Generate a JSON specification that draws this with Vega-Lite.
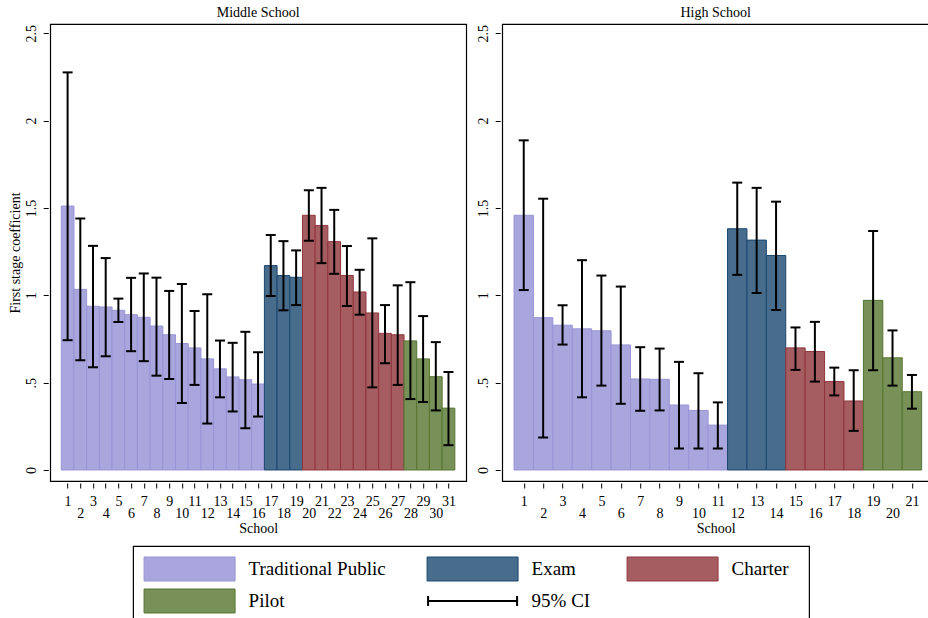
{
  "$schema": "https://vega.github.io/schema/vega-lite/v6.json",
  "padding": {"left": 7, "top": 5, "right": 0, "bottom": 0},
  "background": "white",
  "datasets": {
    "ms": [
      {"school": 1, "type": "Traditional Public", "coef": 1.511, "lo": 0.743, "hi": 2.276},
      {"school": 2, "type": "Traditional Public", "coef": 1.034, "lo": 0.628, "hi": 1.439},
      {"school": 3, "type": "Traditional Public", "coef": 0.937, "lo": 0.588, "hi": 1.283},
      {"school": 4, "type": "Traditional Public", "coef": 0.933, "lo": 0.651, "hi": 1.213},
      {"school": 5, "type": "Traditional Public", "coef": 0.914, "lo": 0.847, "hi": 0.981},
      {"school": 6, "type": "Traditional Public", "coef": 0.889, "lo": 0.680, "hi": 1.100},
      {"school": 7, "type": "Traditional Public", "coef": 0.874, "lo": 0.623, "hi": 1.125},
      {"school": 8, "type": "Traditional Public", "coef": 0.824, "lo": 0.540, "hi": 1.101},
      {"school": 9, "type": "Traditional Public", "coef": 0.774, "lo": 0.521, "hi": 1.025},
      {"school": 10, "type": "Traditional Public", "coef": 0.724, "lo": 0.383, "hi": 1.065},
      {"school": 11, "type": "Traditional Public", "coef": 0.699, "lo": 0.487, "hi": 0.910},
      {"school": 12, "type": "Traditional Public", "coef": 0.636, "lo": 0.266, "hi": 1.006},
      {"school": 13, "type": "Traditional Public", "coef": 0.579, "lo": 0.416, "hi": 0.741},
      {"school": 14, "type": "Traditional Public", "coef": 0.533, "lo": 0.335, "hi": 0.728},
      {"school": 15, "type": "Traditional Public", "coef": 0.517, "lo": 0.239, "hi": 0.791},
      {"school": 16, "type": "Traditional Public", "coef": 0.492, "lo": 0.306, "hi": 0.674},
      {"school": 17, "type": "Exam", "coef": 1.170, "lo": 0.996, "hi": 1.345},
      {"school": 18, "type": "Exam", "coef": 1.113, "lo": 0.914, "hi": 1.310},
      {"school": 19, "type": "Exam", "coef": 1.103, "lo": 0.944, "hi": 1.257},
      {"school": 20, "type": "Charter", "coef": 1.458, "lo": 1.312, "hi": 1.601},
      {"school": 21, "type": "Charter", "coef": 1.400, "lo": 1.184, "hi": 1.615},
      {"school": 22, "type": "Charter", "coef": 1.307, "lo": 1.123, "hi": 1.489},
      {"school": 23, "type": "Charter", "coef": 1.113, "lo": 0.939, "hi": 1.282},
      {"school": 24, "type": "Charter", "coef": 1.019, "lo": 0.889, "hi": 1.146},
      {"school": 25, "type": "Charter", "coef": 0.899, "lo": 0.473, "hi": 1.326},
      {"school": 26, "type": "Charter", "coef": 0.782, "lo": 0.611, "hi": 0.944},
      {"school": 27, "type": "Charter", "coef": 0.774, "lo": 0.487, "hi": 1.057},
      {"school": 28, "type": "Pilot", "coef": 0.739, "lo": 0.406, "hi": 1.075},
      {"school": 29, "type": "Pilot", "coef": 0.636, "lo": 0.389, "hi": 0.881},
      {"school": 30, "type": "Pilot", "coef": 0.534, "lo": 0.341, "hi": 0.732},
      {"school": 31, "type": "Pilot", "coef": 0.354, "lo": 0.142, "hi": 0.561}
    ],
    "hs": [
      {"school": 1, "type": "Traditional Public", "coef": 1.458, "lo": 1.030, "hi": 1.887},
      {"school": 2, "type": "Traditional Public", "coef": 0.872, "lo": 0.186, "hi": 1.553},
      {"school": 3, "type": "Traditional Public", "coef": 0.829, "lo": 0.718, "hi": 0.943},
      {"school": 4, "type": "Traditional Public", "coef": 0.808, "lo": 0.416, "hi": 1.201},
      {"school": 5, "type": "Traditional Public", "coef": 0.797, "lo": 0.483, "hi": 1.113},
      {"school": 6, "type": "Traditional Public", "coef": 0.716, "lo": 0.379, "hi": 1.050},
      {"school": 7, "type": "Traditional Public", "coef": 0.521, "lo": 0.339, "hi": 0.703},
      {"school": 8, "type": "Traditional Public", "coef": 0.519, "lo": 0.341, "hi": 0.695},
      {"school": 9, "type": "Traditional Public", "coef": 0.372, "lo": 0.123, "hi": 0.619},
      {"school": 10, "type": "Traditional Public", "coef": 0.341, "lo": 0.123, "hi": 0.554},
      {"school": 11, "type": "Traditional Public", "coef": 0.257, "lo": 0.123, "hi": 0.387},
      {"school": 12, "type": "Exam", "coef": 1.381, "lo": 1.117, "hi": 1.645},
      {"school": 13, "type": "Exam", "coef": 1.316, "lo": 1.013, "hi": 1.615},
      {"school": 14, "type": "Exam", "coef": 1.228, "lo": 0.916, "hi": 1.536},
      {"school": 15, "type": "Charter", "coef": 0.699, "lo": 0.573, "hi": 0.816},
      {"school": 16, "type": "Charter", "coef": 0.678, "lo": 0.506, "hi": 0.848},
      {"school": 17, "type": "Charter", "coef": 0.506, "lo": 0.427, "hi": 0.586},
      {"school": 18, "type": "Charter", "coef": 0.395, "lo": 0.224, "hi": 0.571},
      {"school": 19, "type": "Pilot", "coef": 0.971, "lo": 0.571, "hi": 1.368},
      {"school": 20, "type": "Pilot", "coef": 0.642, "lo": 0.483, "hi": 0.799},
      {"school": 21, "type": "Pilot", "coef": 0.448, "lo": 0.351, "hi": 0.544}
    ],
    "legend": [
      {"label": "Traditional Public", "type": "Traditional Public", "kind": "swatch", "col": 1, "row": 1},
      {"label": "Exam", "type": "Exam", "kind": "swatch", "col": 2, "row": 1},
      {"label": "Charter", "type": "Charter", "kind": "swatch", "col": 3, "row": 1},
      {"label": "Pilot", "type": "Pilot", "kind": "swatch", "col": 1, "row": 2},
      {"label": "95% CI", "type": "95% CI", "kind": "ci", "col": 2, "row": 2}
    ]
  },
  "config": {
    "font": "Liberation Serif",
    "view": {"stroke": "black", "strokeWidth": 1.2},
    "axis": {
      "domain": false, "grid": false, "tickColor": "black", "tickSize": 5, "tickWidth": 1, "offset": 2,
      "labelColor": "black", "labelFontSize": 14, "titleFontSize": 14, "titleFontWeight": "normal",
      "titleColor": "black", "labelFont": "Liberation Serif", "titleFont": "Liberation Serif"
    },
    "title": {"fontSize": 14, "fontWeight": "normal", "font": "Liberation Serif", "color": "black"}
  },
  "vconcat": [
    {
      "spacing": 8,
      "hconcat": [
        {
          "width": 416, "height": 457,
          "title": {"text": "Middle School", "offset": 4},
          "data": {"name": "ms"},
          "encoding": {
            "x": {"field": "school", "type": "quantitative",
              "scale": {"domain": [-0.371, 32.395], "nice": false, "zero": false, "padding": 0},
              "axis": {"values": [1,2,3,4,5,6,7,8,9,10,11,12,13,14,15,16,17,18,19,20,21,22,23,24,25,26,27,28,29,30,31],
                "title": "School", "labelOverlap": false, "labelFlush": false, "labelAngle": 0, "labelBaseline": "top",
                "labelPadding": {"condition": {"test": "datum.value % 2 == 0", "value": 18}, "value": 6}, "titlePadding": 1}}
          },
          "layer": [
            {
              "mark": {"type": "bar", "orient": "vertical", "width": 12.7, "strokeWidth": 1},
              "encoding": {
                "y": {"field": "coef", "type": "quantitative", "scale": {"domain": [-0.063, 2.553], "nice": false, "zero": false, "padding": 0},
                  "axis": {"values": [0, 0.5, 1, 1.5, 2, 2.5], "title": "First stage coefficient", "labelAngle": -90, "labelAlign": "center", "labelBaseline": "bottom", "labelPadding": 5, "titlePadding": 2,
                    "labelExpr": "datum.value == 0.5 ? '.5' : format(datum.value, '~g')"}},
                "fill": {"field": "type", "type": "nominal", "scale": {"domain": ["Traditional Public", "Exam", "Charter", "Pilot"], "range": ["#a9a6dd", "#486c8c", "#a65d62", "#779159"]}, "legend": null},
                "stroke": {"field": "type", "type": "nominal", "scale": {"domain": ["Traditional Public", "Exam", "Charter", "Pilot"], "range": ["#9894d6", "#1a476f", "#90353b", "#55752f"]}, "legend": null}
              }
            },
            {
              "mark": {"type": "rule", "strokeWidth": 2, "color": "black"},
              "encoding": {
                "y": {"field": "lo", "type": "quantitative", "scale": {"domain": [-0.063, 2.553], "nice": false, "zero": false, "padding": 0},
                  "axis": {"values": [0, 0.5, 1, 1.5, 2, 2.5], "title": "First stage coefficient", "labelAngle": -90, "labelAlign": "center", "labelBaseline": "bottom", "labelPadding": 5, "titlePadding": 2,
                    "labelExpr": "datum.value == 0.5 ? '.5' : format(datum.value, '~g')"}},
                "y2": {"field": "hi"}
              }
            },
            {
              "mark": {"type": "tick", "orient": "horizontal", "size": 10, "thickness": 2, "color": "black", "opacity": 1},
              "encoding": {
                "y": {"field": "lo", "type": "quantitative", "scale": {"domain": [-0.063, 2.553], "nice": false, "zero": false, "padding": 0},
                  "axis": {"values": [0, 0.5, 1, 1.5, 2, 2.5], "title": "First stage coefficient", "labelAngle": -90, "labelAlign": "center", "labelBaseline": "bottom", "labelPadding": 5, "titlePadding": 2,
                    "labelExpr": "datum.value == 0.5 ? '.5' : format(datum.value, '~g')"}}
              }
            },
            {
              "mark": {"type": "tick", "orient": "horizontal", "size": 10, "thickness": 2, "color": "black", "opacity": 1},
              "encoding": {
                "y": {"field": "hi", "type": "quantitative", "scale": {"domain": [-0.063, 2.553], "nice": false, "zero": false, "padding": 0},
                  "axis": {"values": [0, 0.5, 1, 1.5, 2, 2.5], "title": "First stage coefficient", "labelAngle": -90, "labelAlign": "center", "labelBaseline": "bottom", "labelPadding": 5, "titlePadding": 2,
                    "labelExpr": "datum.value == 0.5 ? '.5' : format(datum.value, '~g')"}}
              }
            }
          ]
        },
        {
          "width": 427, "height": 457,
          "title": {"text": "High School", "offset": 4},
          "data": {"name": "hs"},
          "encoding": {
            "x": {"field": "school", "type": "quantitative",
              "scale": {"domain": [-0.11, 21.89], "nice": false, "zero": false, "padding": 0},
              "axis": {"values": [1,2,3,4,5,6,7,8,9,10,11,12,13,14,15,16,17,18,19,20,21],
                "title": "School", "labelOverlap": false, "labelFlush": false, "labelAngle": 0, "labelBaseline": "top",
                "labelPadding": {"condition": {"test": "datum.value % 2 == 0", "value": 18}, "value": 6}, "titlePadding": 1}}
          },
          "layer": [
            {
              "mark": {"type": "bar", "orient": "vertical", "width": 19.4, "strokeWidth": 1},
              "encoding": {
                "y": {"field": "coef", "type": "quantitative", "scale": {"domain": [-0.063, 2.553], "nice": false, "zero": false, "padding": 0},
                  "axis": {"values": [0, 0.5, 1, 1.5, 2, 2.5], "title": null, "labelAngle": -90, "labelAlign": "center", "labelBaseline": "bottom", "labelPadding": 5,
                    "labelExpr": "datum.value == 0.5 ? '.5' : format(datum.value, '~g')"}},
                "fill": {"field": "type", "type": "nominal", "scale": {"domain": ["Traditional Public", "Exam", "Charter", "Pilot"], "range": ["#a9a6dd", "#486c8c", "#a65d62", "#779159"]}, "legend": null},
                "stroke": {"field": "type", "type": "nominal", "scale": {"domain": ["Traditional Public", "Exam", "Charter", "Pilot"], "range": ["#9894d6", "#1a476f", "#90353b", "#55752f"]}, "legend": null}
              }
            },
            {
              "mark": {"type": "rule", "strokeWidth": 2, "color": "black"},
              "encoding": {
                "y": {"field": "lo", "type": "quantitative", "scale": {"domain": [-0.063, 2.553], "nice": false, "zero": false, "padding": 0},
                  "axis": {"values": [0, 0.5, 1, 1.5, 2, 2.5], "title": null, "labelAngle": -90, "labelAlign": "center", "labelBaseline": "bottom", "labelPadding": 5,
                    "labelExpr": "datum.value == 0.5 ? '.5' : format(datum.value, '~g')"}},
                "y2": {"field": "hi"}
              }
            },
            {
              "mark": {"type": "tick", "orient": "horizontal", "size": 10, "thickness": 2, "color": "black", "opacity": 1},
              "encoding": {
                "y": {"field": "lo", "type": "quantitative", "scale": {"domain": [-0.063, 2.553], "nice": false, "zero": false, "padding": 0},
                  "axis": {"values": [0, 0.5, 1, 1.5, 2, 2.5], "title": null, "labelAngle": -90, "labelAlign": "center", "labelBaseline": "bottom", "labelPadding": 5,
                    "labelExpr": "datum.value == 0.5 ? '.5' : format(datum.value, '~g')"}}
              }
            },
            {
              "mark": {"type": "tick", "orient": "horizontal", "size": 10, "thickness": 2, "color": "black", "opacity": 1},
              "encoding": {
                "y": {"field": "hi", "type": "quantitative", "scale": {"domain": [-0.063, 2.553], "nice": false, "zero": false, "padding": 0},
                  "axis": {"values": [0, 0.5, 1, 1.5, 2, 2.5], "title": null, "labelAngle": -90, "labelAlign": "center", "labelBaseline": "bottom", "labelPadding": 5,
                    "labelExpr": "datum.value == 0.5 ? '.5' : format(datum.value, '~g')"}}
              }
            }
          ]
        }
      ]
    },
    {
      "width": 676, "height": 74,
      "data": {"name": "legend"},
      "encoding": {
        "x": {"field": "col", "type": "quantitative", "scale": {"domain": [1, 2, 3], "range": [56.5, 339.5, 539.5]}, "axis": null},
        "y": {"field": "row", "type": "quantitative", "scale": {"domain": [1, 2], "range": [23, 55]},
          "axis": {"orient": "right", "values": [1], "labels": false, "domain": false, "ticks": true, "tickSize": 35, "tickColor": "white", "tickWidth": 0.5, "offset": 2, "title": null, "grid": false}}
      },
      "layer": [
        {
          "transform": [{"filter": "datum.kind == 'swatch'"}],
          "mark": {"type": "point", "shape": "M-1,-0.2637H1V0.2637H-1Z", "size": 8281, "filled": true, "opacity": 1, "strokeWidth": 1},
          "encoding": {
            "fill": {"field": "type", "type": "nominal", "scale": {"domain": ["Traditional Public", "Exam", "Charter", "Pilot"], "range": ["#a9a6dd", "#486c8c", "#a65d62", "#779159"]}, "legend": null},
            "stroke": {"field": "type", "type": "nominal", "scale": {"domain": ["Traditional Public", "Exam", "Charter", "Pilot"], "range": ["#9894d6", "#1a476f", "#90353b", "#55752f"]}, "legend": null}
          }
        },
        {
          "transform": [{"filter": "datum.kind == 'ci'"}],
          "mark": {"type": "point", "shape": "M-1,-0.11V0.11M-1,0H1M1,-0.11V0.11", "size": 7921, "filled": false, "stroke": "black", "strokeWidth": 2, "opacity": 1}
        },
        {
          "mark": {"type": "text", "align": "left", "baseline": "middle", "dx": 59, "fontSize": 19, "font": "Liberation Serif", "color": "black"},
          "encoding": {"text": {"field": "label", "type": "nominal"}}
        }
      ]
    }
  ],
  "spacing": 9,
  "center": true
}
